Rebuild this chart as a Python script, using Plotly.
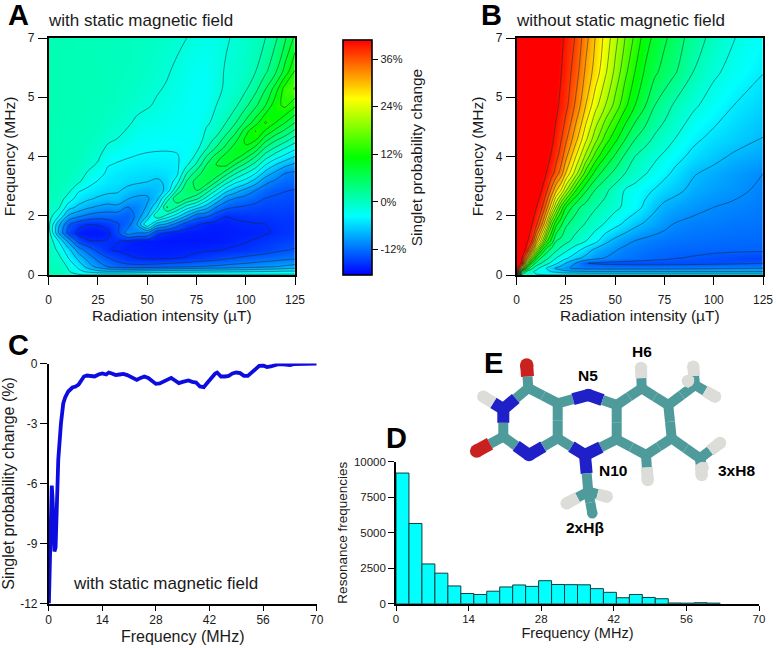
import plotly.graph_objects as go

FONT = "Liberation Sans"
INK = "#1a1a1a"

# ---------- Panel A: singlet probability change (%), rows = frequency, columns = intensity
a_intensity = [0, 5, 10, 15, 20, 25, 30, 35, 40, 45, 50, 55, 60, 65, 70, 75, 80, 85, 90, 95, 100, 105, 110, 115, 120, 125]
a_frequency = [0, .1, .25, .5, .75, 1, 1.25, 1.5, 1.75, 2, 2.25, 2.5, 2.75, 3, 3.25, 3.5, 3.75, 4, 4.25, 4.5, 5, 5.5, 6, 7]
a_change = [
 [.6,.5,-.5,-1.2,-1.4,-1.4,-1.3,-1.3,-1.3,-1.2,-1.2,-1.2,-1.2,-1.1,-1.1,-1.1,-1.1,-1.1,-1,-1,-1,-1,-1,-1,-1,-1],
 [.6,.3,-1.3,-3.2,-4.5,-5.5,-6,-6,-5.8,-5.5,-5.2,-5,-4.9,-4.8,-4.7,-4.6,-4.5,-4.4,-4.3,-4.2,-4.1,-4,-3.9,-3.8,-3.6,-3.5],
 [.6,.3,-2,-4.6,-7.5,-9.8,-11.3,-12.2,-12.7,-12.8,-12.7,-12.4,-12.1,-11.8,-11.5,-11.2,-11,-10.8,-10.5,-10.2,-10,-9.7,-9.3,-8.9,-8.4,-8],
 [.6,-.8,-4,-7,-9.8,-12,-13.5,-14.7,-15.6,-16,-16.3,-16.4,-16.3,-16.1,-15.8,-15.3,-14.9,-14.5,-14,-13.5,-13.1,-12.8,-12.5,-12.2,-11.9,-11.7],
 [.5,-2.3,-5.6,-10,-12.3,-14.3,-15.8,-16.3,-16.6,-16.7,-16.8,-16.8,-16.8,-16.7,-16.6,-16.5,-16.3,-16.2,-15.9,-15.7,-15.5,-15.1,-14.7,-14.2,-13.8,-13.4],
 [.2,-4,-9.5,-14.3,-15.8,-15.95,-15.8,-15.9,-16.4,-16.8,-17,-17.1,-17.2,-17.2,-17.2,-17.2,-17.1,-17,-16.8,-16.4,-16.1,-15.8,-15.4,-15.1,-14.8,-14.6],
 [-.5,-8.8,-14.4,-16.7,-17.2,-17.2,-16.6,-14,-10,-11,-11.2,-15.2,-16.2,-16.6,-16.9,-17,-17,-17,-16.9,-16.8,-16.7,-16.5,-16.2,-15.8,-15.5,-15.3],
 [-.9,-8,-13.2,-15,-15.9,-15.8,-15,-13.8,-12.5,-8.5,-1.8,-7.5,-9.2,-12.2,-14.8,-15.7,-16.5,-16.7,-16.7,-16.4,-16.2,-16.1,-16,-15.7,-15.5,-15.5],
 [-.4,-3.7,-9,-10.6,-11.7,-12.3,-12.4,-12.5,-13,-10.3,-6.4,.7,-2.3,-5.2,-8.8,-12.4,-13,-14.7,-15.9,-15.6,-15.5,-15.3,-15.4,-15.2,-15.1,-15.2],
 [.1,-1.2,-5.3,-7,-8.4,-9.2,-9.7,-9.5,-11.3,-10.7,-8.4,-4.2,3.5,.8,-2.8,-5.2,-7.8,-11.2,-13,-13.6,-13.9,-14.2,-14.5,-14.5,-14.6,-14.7],
 [.4,-.2,-2.8,-5,-6,-6.8,-7.3,-7.2,-8.7,-9.4,-9.2,-7,-.7,5.5,3.2,1.3,-2.6,-6.4,-10.2,-11.5,-12.1,-12.9,-13.7,-13.9,-14.1,-14.2],
 [.5,.2,-.9,-3.7,-4.5,-5.2,-5.8,-6.1,-7,-7.6,-8,-7.5,-5.8,.8,5.6,5.6,2.4,-1.6,-5.4,-7.7,-9.6,-11.2,-12.4,-13.2,-13.5,-13.7],
 [.6,.4,-.2,-1.2,-3.2,-4.2,-4.9,-5.3,-5.8,-6.1,-6.4,-6.9,-5.9,-2.7,3.4,6.7,7.1,3.2,-.6,-3.5,-5.2,-7.8,-10.6,-11.7,-12.4,-12.6],
 [.6,.5,.1,-.5,-1.9,-3.2,-4.4,-4.8,-5.1,-5.4,-5.5,-5.6,-5.3,-4.6,.8,4.4,7,7.6,4.1,.8,-1.6,-4,-7.4,-9.4,-11.2,-11.7],
 [.6,.5,.3,-.1,-1,-1.9,-3.9,-4.2,-4.5,-4.7,-4.8,-4.8,-4.7,-4.5,-2,1.3,5.6,8,8.5,5.1,2.4,-.4,-4,-6.4,-8.2,-9.4],
 [.6,.5,.4,.2,-.5,-1.2,-3.1,-3.6,-3.85,-4.1,-4.25,-4.3,-4.25,-4.1,-3.6,-.9,3.2,6.6,8.9,9.3,6.4,3.2,-.5,-2.9,-4.7,-6.4],
 [.6,.5,.5,.3,-.1,-.7,-2,-2.6,-3.1,-3.5,-3.7,-3.8,-3.85,-3.85,-3.7,-2.3,.5,3.4,6.4,9.5,10,7.2,2.9,.5,-1.6,-3.4],
 [.6,.5,.5,.4,.1,-.3,-1.2,-1.7,-2.4,-3,-3.3,-3.4,-3.5,-3.6,-3.5,-3.2,-.6,1.4,4.4,7.4,11,10.7,6.5,3.7,1.8,-.4],
 [.6,.5,.5,.4,.2,0,-.7,-1.1,-1.8,-2.5,-2.9,-3,-3.1,-3.3,-3.4,-3.5,-1.3,-.3,2.3,5.1,9.3,13,10,7.3,5,2.6],
 [.6,.6,.5,.5,.3,.1,-.3,-.7,-1.3,-2,-2.5,-2.6,-2.8,-3,-3.2,-3.4,-2,-.9,.8,3.2,6.2,9.2,13.2,10.4,8,5.6],
 [.6,.6,.6,.5,.4,.2,.1,-.1,-.7,-1.1,-1.4,-1.9,-2.3,-2.7,-3.1,-3.4,-3,-1.6,-.7,.5,2.7,5.2,8,12,13.3,10.8],
 [.6,.6,.6,.5,.5,.4,.2,0,-.2,-.5,-1,-1.4,-1.8,-2.3,-2.8,-3.5,-3.2,-2.1,-1.3,-.7,.5,2.5,5.5,9,14,15.4],
 [.6,.6,.6,.5,.5,.4,.3,.1,0,-.2,-.5,-.9,-1.4,-2,-2.6,-3,-3.1,-2.2,-1.4,-.9,-.3,.8,2.8,5.2,9,13],
 [.6,.6,.6,.5,.5,.4,.3,.2,.1,0,-.2,-.4,-.7,-1.1,-1.6,-2.1,-2.4,-2.3,-1.8,-1.3,-.7,0,.8,2.7,5.3,8.5],
]

# ---------- Panel B
b_intensity = [0, 2.5, 5, 7.5, 10, 12.5, 15, 17.5, 20, 22.5, 25, 30, 35, 40, 45, 50, 55, 60, 65, 70, 75, 80, 90, 100, 110, 125]
b_frequency = [0, .1, .2, .35, .5, .75, 1, 1.5, 2, 2.5, 3, 3.5, 4, 5, 6, 7]
b_change = [
 [44,-.1,-1.3,-1.5,-1.7,-1.7,-1.8,-1.8,-1.8,-1.8,-1.8,-1.8,-1.8,-1.8,-1.8,-1.8,-1.8,-1.8,-1.8,-1.8,-1.8,-1.8,-1.8,-1.8,-1.8,-1.8],
 [44,5.7,.4,-1.3,-2.8,-3.6,-4.3,-4.8,-5.5,-6.2,-6.7,-7.1,-7.4,-7.5,-7.5,-7.5,-7.5,-7.5,-7.5,-7.5,-7.5,-7.5,-7.5,-7.5,-7.5,-7.5],
 [44,25.5,6.9,1.7,-1.1,-3,-4.8,-6.4,-8,-9,-10,-10.9,-11.2,-11.3,-11.3,-11.3,-11.3,-11.3,-11.2,-11.2,-11.1,-11.1,-11,-10.8,-10.6,-10.4],
 [44,39.3,20.4,7.4,2.7,.8,-.8,-2.6,-4.2,-5.8,-7.6,-10.4,-13.1,-13.5,-13.8,-13.9,-14,-14.1,-14.1,-14.1,-14.1,-14.1,-14,-13.9,-13.7,-13.3],
 [44,40.6,31.6,17.6,7.6,3.3,1.5,0,-2,-3.2,-4.3,-6.7,-8.4,-9.7,-10.5,-11.1,-11.6,-11.9,-12.3,-12.6,-12.8,-13.1,-13.4,-13.8,-14.1,-14.6],
 [44,42.3,39.1,31.1,19.2,10.3,5.2,2.9,1.4,-.1,-1.3,-3.5,-6,-8.2,-9.3,-10.2,-11,-11.4,-11.8,-12.1,-12.4,-12.5,-12.6,-12.7,-12.8,-12.8],
 [44,42.3,40.8,37.8,29.6,22,13,8.5,3.6,2.7,1.6,-.4,-2,-4,-6.9,-8.5,-9.6,-10.5,-11,-11.3,-11.6,-11.8,-12,-12.2,-12.3,-12.4],
 [44,43.3,41.6,40.3,37.9,32.5,25.5,16,10,6.9,4,2.2,.6,-.8,-2.3,-3.9,-5.4,-6.9,-8,-8.9,-9.7,-10.5,-11.1,-11.3,-11.6,-11.8],
 [44,44,42.5,41.4,40,38.1,33.2,27.4,20.4,14,9.2,4.5,2.4,1,-.1,-1.3,-2.6,-3.7,-5.3,-7.1,-8.3,-8.9,-9.7,-10.4,-10.8,-11.3],
 [44,44,44,43.4,41.8,40.1,37.9,33.9,29.2,25.9,20.9,12.1,6.8,3.3,1.4,-.4,-2.2,-3.1,-4.1,-5,-6.1,-6.8,-8.4,-9.2,-9.8,-10.9],
 [44,44,44,44,42.9,41.5,40,38.5,35.9,33,28.5,21.7,13.6,8,4.8,2.7,.8,-.5,-1.8,-2.9,-4.1,-5.3,-7.4,-8.4,-9.3,-10.4],
 [44,44,44,44,43.7,42.3,41,39.8,38,35.9,32.3,26,19.7,13.6,9.2,5.9,3.1,.8,-.4,-1.5,-2.5,-3.8,-5.6,-6.8,-8,-8.9],
 [44,44,44,44,44,43.1,41.8,40.7,39.1,37.4,34.9,29.6,23.8,18.5,13.6,9.9,6.4,3.6,1.8,.3,-.8,-2,-4.3,-5.6,-6.4,-7.7],
 [44,44,44,44,44,44,43.7,42.9,40.7,39.2,38,33.8,28.8,24.1,20.4,16.6,12.7,9.2,6.6,3.6,2.1,.4,-1.6,-3.3,-4.8,-6.2],
 [44,44,44,44,44,44,43.4,42.6,41.3,40.1,38.7,35.8,31.1,27.6,23.7,19.7,15.6,12,8.9,7,5.3,4,.7,-1.5,-2.9,-4.7],
 [44,44,44,44,44,44,43.7,42.9,41.8,40.6,39.4,36.9,32.7,28.6,25.1,21.4,17.6,14.2,10.7,8.4,6.9,5.2,2.1,-.1,-1.9,-3.5],
]

# ---------- Panel C
c_frequency = [.05,.3,.6,.8,1,1.2,1.5,1.8,2.1,2.5,3.2,3.8,4.3,5.1,6.2,7,7.8,8.5,9.2,10,11,12,13,14,15,15.7,16.5,17.5,18.5,19.5,20.5,22,23,24,25,26,27,28,29,30,31,32,33,34,35,36.5,37.5,38.5,39.5,40.5,41.5,42.5,43.5,44,45,46,47,48,49,50,51,52,53,54,55,56,57,58,59,60,62,63,64,66,68,70]
c_change = [-12,-10,-6.5,-6.1,-6.7,-8.5,-9.4,-9.2,-6.6,-4.8,-3,-2,-1.7,-1.4,-1.2,-1.15,-1.05,-.8,-.65,-.6,-.62,-.65,-.55,-.5,-.55,-.45,-.5,-.58,-.55,-.52,-.58,-.72,-.82,-.72,-.65,-.72,-.9,-1.02,-1,-.92,-.85,-.72,-.85,-.98,-.92,-.85,-.92,-.95,-1.15,-1.18,-.95,-.7,-.5,-.45,-.65,-.65,-.62,-.5,-.45,-.48,-.62,-.62,-.45,-.3,-.12,-.1,-.18,-.15,-.1,-.03,-.05,-.08,-.03,-.02,-.01,-.01]

# ---------- Panel D
d_bin_left = [0,2.5,5,7.5,10,12.5,15,17.5,20,22.5,25,27.5,30,32.5,35,37.5,40,42.5,45,47.5,50,52.5,55,57.5,60]
d_counts = [9200,5650,2800,2150,1250,720,650,880,1180,1320,1220,1620,1350,1340,1330,1060,800,420,650,440,350,50,40,70,40]

# ---------- Panel E: atoms of the flavin model (drawn on a page-sized overlay axis)
atoms = {
 "O4":(526.7,365,"O"),"C4":(528.3,388,"C"),"N3":(503.3,409,"N"),"H3":(483.3,396.7,"H"),
 "C2":(503.3,436.7,"C"),"O2":(476.7,451,"O"),"N1":(529,455,"N"),"C10a":(557.7,438.3,"C"),
 "C4a":(557.7,403.3,"C"),"N5":(588.3,395,"N"),"C5a":(616.7,405,"C"),"C9a":(616.7,439.3,"C"),
 "N10":(585,455,"N"),"C6":(641.7,388.3,"C"),"H6":(641,368,"H"),"C7":(668.3,405,"C"),
 "C8":(671.7,438.3,"C"),"C9":(646,455,"C"),"H9":(647.7,480,"H"),"C7m":(695,385,"C"),
 "H7a":(693.3,366.7,"H"),"H7c":(715,396.7,"H"),"H7b":(688,381,"H"),"C8m":(700,458.3,"C"),
 "H8a":(720,443,"H"),"H8b":(701.7,475,"H"),"H8c":(702.5,468,"H"),"C1p":(588.3,491.7,"C"),
 "H1a":(566.7,503.3,"H"),"H1b":(606.7,496.7,"H"),"C2p":(592.3,513.3,"C"),
}
bonds = [("C4","O4"),("C4","N3"),("N3","H3"),("N3","C2"),("C2","O2"),("C2","N1"),("N1","C10a"),("C10a","C4a"),
 ("C4a","C4"),("C4a","N5"),("N5","C5a"),("C5a","C9a"),("C9a","N10"),("N10","C10a"),("C5a","C6"),("C6","H6"),
 ("C6","C7"),("C7","C8"),("C8","C9"),("C9","C9a"),("C9","H9"),("C7","C7m"),("C7m","H7a"),("C7m","H7c"),("C7m","H7b"),
 ("C8","C8m"),("C8m","H8a"),("C8m","H8b"),("C8m","H8c"),("N10","C1p"),("C1p","H1a"),("C1p","H1b"),("C1p","C2p")]
element_colors = {"C":"#4f9b9b","N":"#2020c8","O":"#c92020","H":"#dcdcd8"}
element_widths = {"C":10,"N":12,"O":13,"H":12}
atom_labels = [("N5",588,375),("H6",642,351),("N10",613,470),("3xH8",736,470),("2xHβ",585,527)]

colorscale = [[0,"#0000ff"],[.25,"#00ffff"],[.5,"#00ff00"],[.75,"#ffff00"],[1,"#ff0000"]]
levels_a = dict(start=-16, end=36.8, size=2.4, coloring="heatmap")
levels_b = dict(start=-13.2, end=40, size=2.8, coloring="heatmap")
contour_line = dict(color="rgba(25,45,45,0.75)", width=0.7)

W, H = 777, 648
def xd(a, b): return [a / W, b / W]
def yd(top, bottom): return [(H - bottom) / H, (H - top) / H]

fig = go.Figure()
fig.add_trace(go.Contour(x=a_intensity, y=a_frequency, z=a_change, coloraxis="coloraxis", autocontour=False,
                         contours=levels_a, line=contour_line, hoverinfo="skip", xaxis="x", yaxis="y"))
fig.add_trace(go.Contour(x=b_intensity, y=b_frequency, z=b_change, coloraxis="coloraxis", autocontour=False,
                         contours=levels_b, line=contour_line, hoverinfo="skip", xaxis="x2", yaxis="y2"))
fig.add_trace(go.Scatter(x=c_frequency, y=c_change, mode="lines", line=dict(color="#0c0ce0", width=3.8),
                         xaxis="x3", yaxis="y3"))
fig.add_trace(go.Bar(x=d_bin_left, y=d_counts, width=2.5, offset=0, marker=dict(color="#00ffff", line=dict(color="#0b3f3f", width=1)),
                     xaxis="x4", yaxis="y4"))

# molecule: each bond split in two halves, coloured by its atom
for a, b in bonds:
    ax, ay, ae = atoms[a]; bx, by, be = atoms[b]
    mx, my = (ax + bx) / 2, (ay + by) / 2
    for (sx, sy, se) in [(ax, ay, ae), (bx, by, be)]:
        fig.add_trace(go.Scatter(x=[sx, mx], y=[sy, my], mode="lines", line=dict(color=element_colors[se], width=element_widths[se]),
                                 hoverinfo="skip", xaxis="x5", yaxis="y5"))
for name, (ax, ay, ae) in atoms.items():
    fig.add_trace(go.Scatter(x=[ax], y=[ay], mode="markers", marker=dict(color=element_colors[ae], size=element_widths[ae] + .5),
                             hoverinfo="skip", xaxis="x5", yaxis="y5"))

def axis(dom, rng, tv, tt=None, title="", tsize=15.5, mirror=False, fsize=12, standoff=3, anchor=None, ticklen=7, labelgap=0):
    d = dict(domain=dom, range=rng, tickmode="array", tickvals=tv, ticktext=tt if tt else [str(v) for v in tv],
             ticks="outside", ticklen=ticklen, tickwidth=1.4, tickcolor="black", showline=True, linewidth=1.6, linecolor="black",
             ticklabelstandoff=labelgap,
             mirror=mirror, showgrid=False, zeroline=False, automargin=False, tickfont=dict(family=FONT, size=fsize, color=INK),
             title=dict(text=title, font=dict(family=FONT, size=tsize, color=INK), standoff=standoff), anchor=anchor)
    return d

rad_ticks = [0, 25, 50, 75, 100, 125]
freq_ticks = [0, 1.75, 3.5, 5.25, 7]
freq_text = ["0", "2", "4", "5", "7"]

fig.update_layout(
    width=W, height=H, margin=dict(l=0, r=0, t=0, b=0, autoexpand=False), autosize=False, paper_bgcolor="white", plot_bgcolor="rgba(0,0,0,0)", showlegend=False,
    xaxis=axis(xd(48.7, 295), [0, 125], rad_ticks, title="Radiation intensity (µT)", mirror=True, anchor="y", ticklen=8, labelgap=5, standoff=2),
    yaxis=axis(yd(38, 275), [0, 7], freq_ticks, freq_text, title="Frequency (MHz)", mirror=True, anchor="x", ticklen=9, labelgap=1, standoff=8),
    xaxis2=axis(xd(516.7, 763), [0, 125], rad_ticks, title="Radiation intensity (µT)", mirror=True, anchor="y2", ticklen=8, labelgap=5, standoff=2),
    yaxis2=axis(yd(38, 275), [0, 7], freq_ticks, freq_text, title="Frequency (MHz)", mirror=True, anchor="x2", ticklen=9, labelgap=1, standoff=8),
    xaxis3=axis(xd(48.7, 316.7), [0, 70], [0, 14, 28, 42, 56, 70], title="Frequency (MHz)", tsize=16, anchor="y3", ticklen=6, labelgap=-2, standoff=5),
    yaxis3=axis(yd(363.5, 603.5), [-12, 0], [-12, -9, -6, -3, 0], title="Singlet probability change (%)", tsize=16, anchor="x3", standoff=2),
    xaxis4=axis(xd(396, 759), [0, 70], [0, 14, 28, 42, 56, 70], title="Frequency (MHz)", tsize=14.5, fsize=11.5, anchor="y4", ticklen=5, labelgap=-1, standoff=3),
    yaxis4=axis(yd(461.7, 603.7), [0, 10000], [0, 2500, 5000, 7500, 10000], title="Resonance frequencies", tsize=13.5, fsize=11.5, anchor="x4", ticklen=6, standoff=3),
    xaxis5=dict(domain=[0, 1], range=[0, W], visible=False, anchor="y5", fixedrange=True, automargin=False),
    yaxis5=dict(domain=[0, 1], range=[H, 0], visible=False, anchor="x5", fixedrange=True, automargin=False),
    coloraxis=dict(colorscale=colorscale, cmin=-18.5, cmax=40.8, colorbar=dict(
        x=343 / W, xanchor="left", y=(H - 275) / H, yanchor="bottom", len=235, lenmode="pixels", thickness=29, thicknessmode="pixels",
        outlinewidth=1.6, outlinecolor="black", tickmode="array", tickvals=[-12, 0, 12, 24, 36], ticktext=["-12%", "0%", "12%", "24%", "36%"],
        ticks="outside", ticklen=6, tickwidth=1.4, tickcolor="black", tickfont=dict(family=FONT, size=11, color=INK), ypad=0, xpad=0,
        title=dict(text="Singlet probability change", side="right", font=dict(family=FONT, size=15.5, color=INK)))),
)

def note(text, x, y, size, bold=False, anchor="left"):
    fig.add_annotation(xref="paper", yref="paper", x=x / W, y=(H - y) / H, text=f"<b>{text}</b>" if bold else text, showarrow=False,
                       xanchor=anchor, yanchor="middle", xshift=0, yshift=0, font=dict(family=FONT, size=size, color="black" if bold else INK))

for t, x, y in [("A", 6, 15), ("B", 479, 15), ("C", 6, 345), ("D", 383.5, 438), ("E", 481.5, 363)]:
    note(t, x, y, 29, bold=True)
note("with static magnetic field", 46, 20, 17)
note("without static magnetic field", 514, 20, 17)
note("with static magnetic field", 71, 583, 17)
for t, x, y in atom_labels:
    note(t, x, y, 15.5, bold=True, anchor="center")

fig.write_html("out.html", config=dict(displayModeBar=False), post_script="document.body.style.margin='0';")
